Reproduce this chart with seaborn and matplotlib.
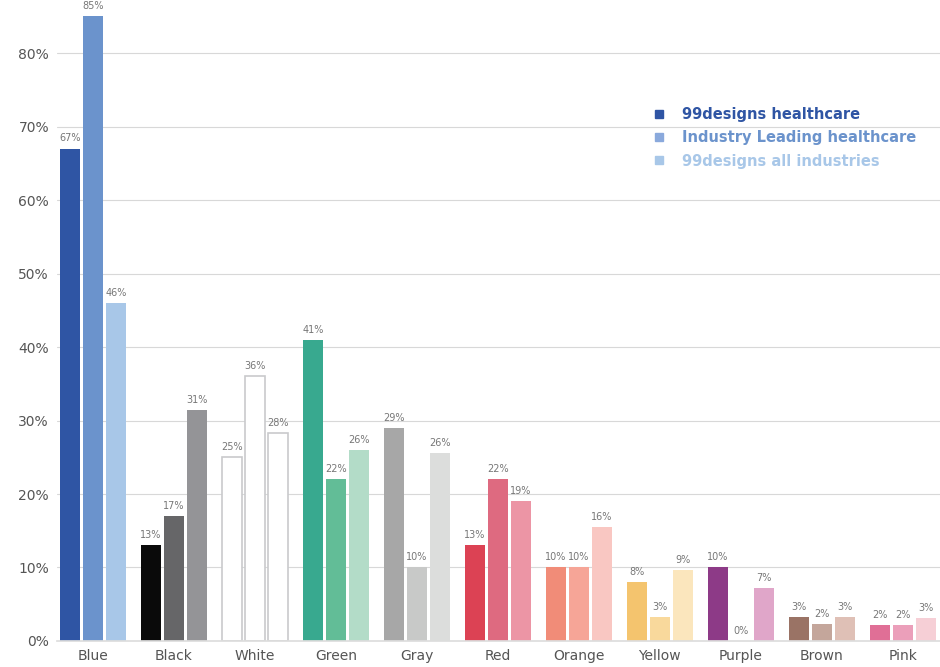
import pandas as pd
import matplotlib.pyplot as plt
import seaborn as sns
from matplotlib.lines import Line2D

colors_cat = ["Blue", "Black", "White", "Green", "Gray", "Red", "Orange",
              "Yellow", "Purple", "Brown", "Pink"]
series = ["99designs healthcare", "Industry Leading healthcare", "99designs all industries"]
hc_99 = [67, 13, 25, 41, 29, 13, 10, 8, 10, 3.2, 2.2]
industry = [85, 17, 36, 22, 10, 22, 10, 3.3, 0, 2.3, 2.2]
all_ind = [46, 31.4, 28.3, 26, 25.6, 19, 15.5, 9.7, 7.2, 3.2, 3.1]
lab_99 = ["67%", "13%", "25%", "41%", "29%", "13%", "10%", "8%", "10%", "3%", "2%"]
lab_ind = ["85%", "17%", "36%", "22%", "10%", "22%", "10%", "3%", "0%", "2%", "2%"]
lab_all = ["46%", "31%", "28%", "26%", "26%", "19%", "16%", "9%", "7%", "3%", "3%"]

shades = {
    "Blue": ["#2f55a4", "#6b93cc", "#a8c7e8"],
    "Black": ["#0a0a0a", "#666668", "#949497"],
    "White": ["#ffffff", "#ffffff", "#ffffff"],
    "Green": ["#38a98f", "#62bd97", "#b3dcc8"],
    "Gray": ["#a7a7a7", "#c8c9c8", "#dcdddc"],
    "Red": ["#dc4254", "#de6a80", "#ec95a5"],
    "Orange": ["#f18c78", "#f6a597", "#f9c7c2"],
    "Yellow": ["#f4c46e", "#f9d99c", "#fbe6bd"],
    "Purple": ["#8d3a87", "#c27bb0", "#e0a6c9"],
    "Brown": ["#9a7365", "#c4a69b", "#dfc0b6"],
    "Pink": ["#e06f96", "#eb9fba", "#f6cfd6"],
}

df = pd.DataFrame({
    "color": colors_cat * 3,
    "series": [series[0]] * 11 + [series[1]] * 11 + [series[2]] * 11,
    "value": hc_99 + industry + all_ind,
    "label": lab_99 + lab_ind + lab_all,
})

sns.set_theme(style="white")
fig = plt.figure(figsize=(9.4, 6.67), dpi=100)
ax = fig.add_axes([0.061, 0.039, 0.939, 0.942])
sns.barplot(data=df, x="color", y="value", hue="series", order=colors_cat,
            hue_order=series, width=0.85, ax=ax, legend=False, saturation=1)

bars = [p for p in ax.patches if p.get_height() is not None][:33]
for si in range(3):
    for ci in range(11):
        p = ax.patches[si * 11 + ci]
        center = ci + (si - 1) * 0.284
        p.set_x(center - 0.125)
        p.set_width(0.25)
        p.set_facecolor(shades[colors_cat[ci]][si])
        p.set_edgecolor("#c9cacc" if colors_cat[ci] == "White" else "none")
        p.set_linewidth(1.2)
        row = df.iloc[si * 11 + ci]
        ax.text(center, row["value"] + 0.7, row["label"], ha="center", va="bottom",
                fontsize=7, color="#777777")

ax.set_xlim(-0.44, 10.46)
ax.set_ylim(0, 85.5)
ax.set_yticks(range(0, 81, 10))
ax.set_yticklabels([f"{v}%" for v in range(0, 81, 10)], color="#555555", fontsize=10)
ax.set_xticks(range(11))
ax.set_xticklabels(colors_cat, color="#555555", fontsize=10)
ax.set_xlabel("")
ax.set_ylabel("")
ax.yaxis.grid(True, color="#d8d8d8", linewidth=0.8)
ax.set_axisbelow(True)
for s in ["left", "right", "top"]:
    ax.spines[s].set_visible(False)
ax.spines["bottom"].set_color("#dddddd")
ax.tick_params(axis="both", length=0, pad=6)

leg_cols = ["#2f55a4", "#8aa9dc", "#a8c7e8"]
handles = [Line2D([], [], marker="s", ls="", color=c, markersize=6) for c in leg_cols]
ax.legend(handles, series, loc="upper left", bbox_to_anchor=(0.65, 0.87), frameon=False,
          labelcolor=["#2f55a4", "#6b93cc", "#a8c7e8"], prop={"weight": "bold", "size": 10.5},
          handletextpad=0.6, labelspacing=0.55)

fig.savefig("out.png", dpi=100)
